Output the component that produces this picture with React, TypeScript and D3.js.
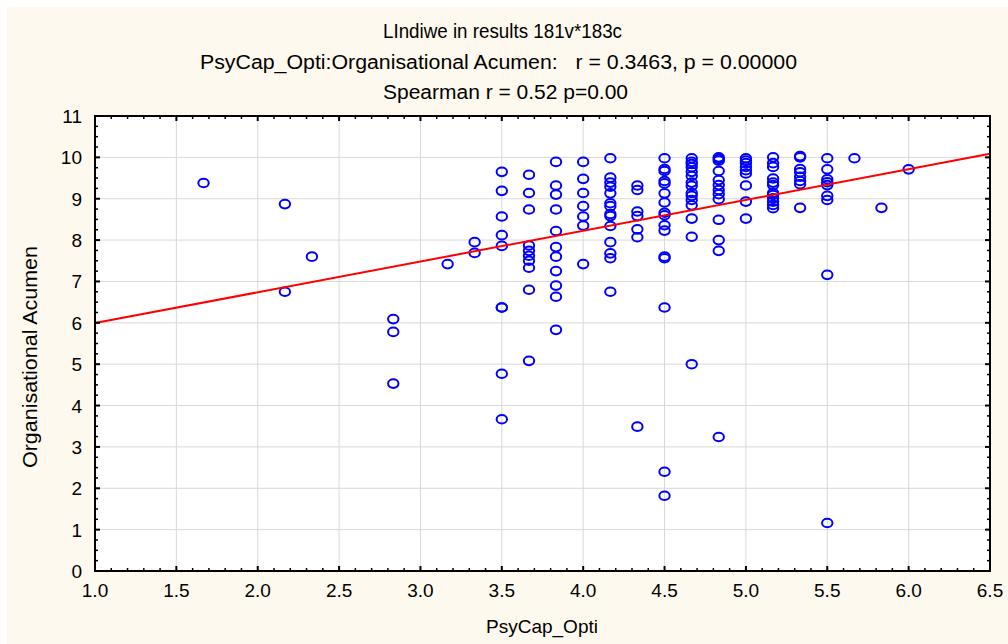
import * as d3 from 'd3'

// PsyCap_Opti levels (steps of 1/6) and the Organisational Acumen values seen at each
const psyCapLevels = [1.667, 2.167, 2.333, 2.833, 3.167, 3.333, 3.5, 3.667, 3.833, 4.0, 4.167, 4.333, 4.5, 4.667, 4.833, 5.0, 5.167, 5.333, 5.5, 5.667, 5.833, 6.0]
const acumenByLevel = [
  [9.38],
  [8.87, 6.75],
  [7.6],
  [6.09, 5.78, 4.53],
  [7.42],
  [7.95, 7.69],
  [9.65, 9.19, 8.57, 8.12, 7.86, 6.37, 6.37, 4.77, 3.67],
  [9.58, 9.14, 8.74, 7.87, 7.74, 7.62, 7.5, 7.33, 6.8, 5.08],
  [9.89, 9.32, 9.1, 8.74, 8.22, 7.83, 7.6, 7.25, 6.9, 6.63, 5.83],
  [9.89, 9.48, 9.14, 8.82, 8.57, 8.35, 7.42],
  [9.98, 9.51, 9.39, 9.29, 9.13, 8.89, 8.82, 8.63, 8.58, 8.34, 7.95, 7.68, 7.56, 6.75],
  [9.32, 9.21, 8.69, 8.58, 8.26, 8.07, 3.49],
  [9.98, 9.72, 9.67, 9.43, 9.37, 9.13, 8.91, 8.66, 8.6, 8.36, 8.23, 7.6, 7.56, 6.37, 2.4, 1.82],
  [9.98, 9.89, 9.84, 9.76, 9.65, 9.55, 9.39, 9.31, 9.14, 9.07, 8.97, 8.84, 8.52, 8.08, 5.0],
  [10.0, 9.96, 9.92, 9.67, 9.45, 9.33, 9.21, 9.11, 8.99, 8.49, 8.0, 7.74, 3.24],
  [9.98, 9.92, 9.86, 9.77, 9.69, 9.61, 9.32, 8.93, 8.52],
  [10.0, 9.86, 9.77, 9.49, 9.39, 9.33, 9.14, 9.09, 9.01, 8.93, 8.85, 8.77],
  [10.03, 10.0, 9.72, 9.64, 9.53, 9.43, 9.35, 8.78],
  [9.98, 9.71, 9.47, 9.4, 9.33, 9.07, 8.97, 7.16, 1.16],
  [9.98],
  [8.78],
  [9.71],
]

const xTicks = [1.0, 1.5, 2.0, 2.5, 3.0, 3.5, 4.0, 4.5, 5.0, 5.5, 6.0, 6.5]
const yTicks = [0, 1, 2, 3, 4, 5, 6, 7, 8, 9, 10, 11]

// linear fit shown on the chart
const fitIntercept = 5.25
const fitSlope = 0.744

const titleLines = [
  'LIndiwe in results 181v*183c',
  'PsyCap_Opti:Organisational Acumen:   r = 0.3463, p = 0.00000',
  'Spearman r = 0.52 p=0.00',
]
// rough widths / centres of the title lines as printed
const titleWidths = [239, 597, 245]
const titleCentres = [502.5, 498.5, 505.5]

export default function App() {
  const width = 1008
  const height = 644
  const plot = { left: 95, right: 990, top: 116, bottom: 571 }

  const x = d3.scaleLinear().domain([1, 6.5]).range([plot.left, plot.right])
  const y = d3.scaleLinear().domain([0, 11]).range([plot.bottom, plot.top])

  const points = psyCapLevels.flatMap((lv, i) => acumenByLevel[i].map(v => ({ x: lv, y: v })))

  const xMinor = d3.range(10, 66, 1).map(d => d / 10).filter(d => Math.abs(d * 2 - Math.round(d * 2)) > 1e-6)
  const yMinor = d3.range(0, 44, 1).map(d => d / 4).filter(d => d % 1 !== 0)

  const fitLine = d3.line<number>()
    .x(d => x(d))
    .y(d => y(fitIntercept + fitSlope * d))

  const font = '"Liberation Sans", Arial, sans-serif'

  return (
    <svg width={width} height={height} style={{ position: 'absolute', left: 0, top: 0, background: '#fff' }}>
      <rect x={7} y={7} width={width - 7} height={height - 7} fill="#fef9ee" />
      <rect x={plot.left} y={plot.top} width={plot.right - plot.left} height={plot.bottom - plot.top} fill="#fff" />

      {/* grid */}
      {xTicks.slice(1, -1).map(t => (
        <line key={'gx' + t} x1={x(t)} x2={x(t)} y1={plot.top} y2={plot.bottom} stroke="#d9d9d9" strokeWidth={1} />
      ))}
      {yTicks.slice(1, -1).map(t => (
        <line key={'gy' + t} x1={plot.left} x2={plot.right} y1={y(t)} y2={y(t)} stroke="#d9d9d9" strokeWidth={1} />
      ))}

      {/* points */}
      {points.map((p, i) => (
        <ellipse key={i} cx={x(p.x)} cy={y(p.y)} rx={5.2} ry={4.3} fill="none" stroke="#0000ff" strokeWidth={2} />
      ))}

      <path d={fitLine([1, 6.5]) || ''} stroke="#ff0000" strokeWidth={2} fill="none" />

      {/* ticks, all four sides, pointing in */}
      {xTicks.map(t => (
        <g key={'tx' + t}>
          <line x1={x(t)} x2={x(t)} y1={plot.bottom} y2={plot.bottom - 5} stroke="#000" strokeWidth={2} />
          <line x1={x(t)} x2={x(t)} y1={plot.top} y2={plot.top + 5} stroke="#000" strokeWidth={2} />
        </g>
      ))}
      {xMinor.map(t => (
        <g key={'mx' + t}>
          <line x1={x(t)} x2={x(t)} y1={plot.bottom} y2={plot.bottom - 3} stroke="#000" strokeWidth={1.5} />
          <line x1={x(t)} x2={x(t)} y1={plot.top} y2={plot.top + 3} stroke="#000" strokeWidth={1.5} />
        </g>
      ))}
      {yTicks.map(t => (
        <g key={'ty' + t}>
          <line x1={plot.left} x2={plot.left + 5} y1={y(t)} y2={y(t)} stroke="#000" strokeWidth={2} />
          <line x1={plot.right} x2={plot.right - 5} y1={y(t)} y2={y(t)} stroke="#000" strokeWidth={2} />
        </g>
      ))}
      {yMinor.map(t => (
        <g key={'my' + t}>
          <line x1={plot.left} x2={plot.left + 3} y1={y(t)} y2={y(t)} stroke="#000" strokeWidth={1.5} />
          <line x1={plot.right} x2={plot.right - 3} y1={y(t)} y2={y(t)} stroke="#000" strokeWidth={1.5} />
        </g>
      ))}

      <rect x={plot.left} y={plot.top} width={plot.right - plot.left} height={plot.bottom - plot.top} fill="none" stroke="#000" strokeWidth={2} />

      {/* tick labels */}
      {xTicks.map(t => (
        <text key={'lx' + t} x={x(t)} y={597} textAnchor="middle" fontFamily={font} fontSize={19} fill="#000">
          {t.toFixed(1)}
        </text>
      ))}
      {yTicks.map(t => (
        <text key={'ly' + t} x={82} y={y(t) + 7} textAnchor="end" fontFamily={font} fontSize={19} fill="#000">
          {t}
        </text>
      ))}

      {/* titles */}
      {titleLines.map((s, i) => (
        <text key={'t' + i} x={titleCentres[i]} y={38 + i * 30.5} textAnchor="middle" fontFamily={font} fontSize={19.5}
          fill="#000" textLength={titleWidths[i]} lengthAdjust="spacingAndGlyphs" style={{ whiteSpace: 'pre' }}>
          {s}
        </text>
      ))}

      <text x={542} y={633} textAnchor="middle" fontFamily={font} fontSize={19} fill="#000">PsyCap_Opti</text>
      <text transform="translate(37,357) rotate(-90)" textAnchor="middle" fontFamily={font} fontSize={20}
        textLength={222} lengthAdjust="spacingAndGlyphs" fill="#000">
        Organisational Acumen
      </text>
    </svg>
  )
}
